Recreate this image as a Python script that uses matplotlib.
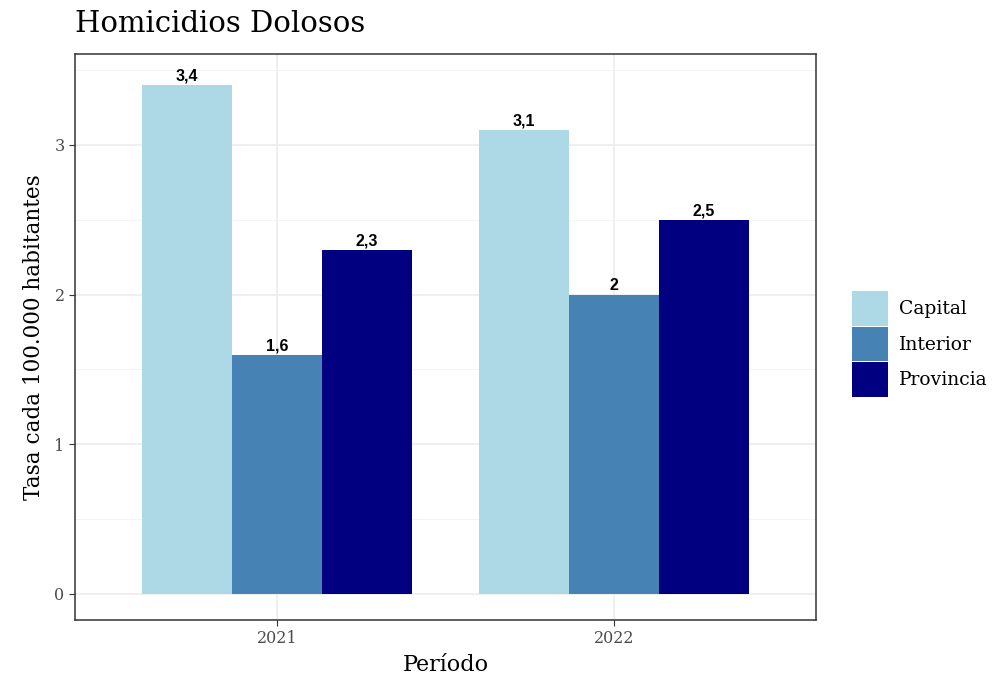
import numpy as np
import matplotlib
matplotlib.use('Agg')
import matplotlib.pyplot as plt
from matplotlib.ticker import MultipleLocator

periodos = ['2021', '2022']
regiones = ['Capital', 'Interior', 'Provincia']
capital = [3.4, 3.1]
interior = [1.6, 2.0]
provincia = [2.3, 2.5]
colores = ['#ADD8E6', '#4682B4', '#000080']

plt.rcParams['font.family'] = ['DejaVu Serif']

fig = plt.figure(figsize=(10.01, 6.79), dpi=100)
ax = fig.add_axes([75 / 1001, 59 / 679, 741 / 1001, 566 / 679])

x = np.arange(1, len(periodos) + 1)
width = 0.8 / 3
series = [capital, interior, provincia]
for i, (nombre, vals) in enumerate(zip(regiones, series)):
    pos = x + (i - 1) * width
    bars = ax.bar(pos, vals, width=width, color=colores[i], label=nombre, zorder=2)
    for b, v in zip(bars, vals):
        txt = ('%g' % v).replace('.', ',')
        ax.annotate(txt, (b.get_x() + b.get_width() / 2, v), xytext=(0, 1),
                    textcoords='offset points', ha='center', va='bottom',
                    fontsize=11.5, fontweight='bold', family='Liberation Sans', zorder=3)

ax.set_xlim(0.4, 2.6)
ax.set_ylim(-0.174, 3.608)
ax.set_xticks(x)
ax.set_xticklabels(periodos)
ax.yaxis.set_major_locator(MultipleLocator(1))
ax.yaxis.set_minor_locator(MultipleLocator(0.5))
ax.grid(True, which='major', color='#EBEBEB', linewidth=1.1, zorder=0)
ax.grid(True, which='minor', axis='y', color='#F2F2F2', linewidth=0.6, zorder=0)
ax.tick_params(which='major', length=4, color='#333333', labelcolor='#4D4D4D', labelsize=11.5)
ax.tick_params(which='minor', length=0)
for s in ax.spines.values():
    s.set_color('#333333')
    s.set_linewidth(1.1)

ax.set_xlabel('Período', fontsize=16, labelpad=5)
ax.set_ylabel('Tasa cada 100.000 habitantes', fontsize=15.5, labelpad=7)
fig.text(75 / 1001, 1 - 24 / 679, 'Homicidios Dolosos', fontsize=21, va='center', ha='left')

leg = ax.legend(loc='center left', bbox_to_anchor=(1.039, 0.4876), frameon=False,
                fontsize=13.5, handlelength=1.9, handleheight=2.45,
                labelspacing=0.05, handletextpad=0.6, borderaxespad=0)

fig.savefig('out.png', dpi=100)
